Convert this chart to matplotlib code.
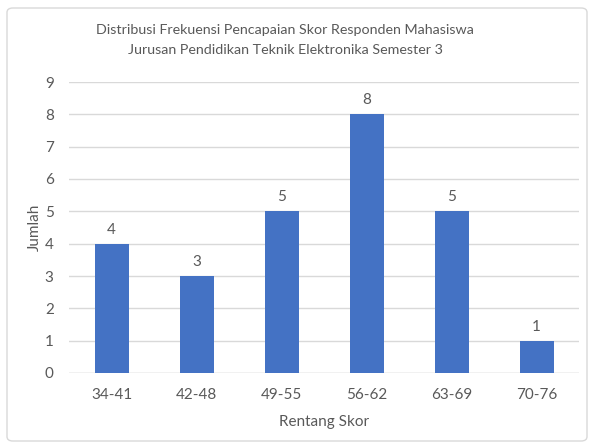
import matplotlib.pyplot as plt
from matplotlib.patches import FancyBboxPatch

ranges = ["34-41", "42-48", "49-55", "56-62", "63-69", "70-76"]
counts = [4, 3, 5, 8, 5, 1]

TEXT = "#595959"
BAR = "#4472C4"
GRID = "#D9D9D9"

plt.rcParams["font.family"] = ["Lato", "DejaVu Sans"]

fig = plt.figure(figsize=(5.89, 4.43), dpi=100, facecolor="white")

# chart frame, kept behind the axes
frame = FancyBboxPatch((7 / 589, 2 / 443), 580 / 589, 433 / 443,
                       boxstyle="round,pad=0,rounding_size=0.01",
                       transform=fig.transFigure, facecolor="white",
                       edgecolor=GRID, linewidth=1.0, zorder=-5)
fig.patches.append(frame)

ax = fig.add_axes([69 / 589, 70 / 443, 510 / 589, 291 / 443], zorder=2)
ax.patch.set_alpha(0)
x = range(len(ranges))
bars = ax.bar(x, counts, width=0.4, color=BAR, zorder=3)
for b, v in zip(bars, counts):
    ax.text(b.get_x() + b.get_width() / 2, v + 0.22, str(v), ha="center",
            va="bottom", fontsize=11, color=TEXT)

ax.set_xlim(-0.5, len(ranges) - 0.5)
ax.set_ylim(0, 9)
ax.set_yticks(range(10))
ax.set_xticks(list(x))
ax.set_xticklabels(ranges)
ax.tick_params(axis="both", length=0, labelsize=11, colors=TEXT)
ax.tick_params(axis="x", pad=11)
ax.tick_params(axis="y", pad=11)
ax.grid(axis="y", color=GRID, linewidth=1.0, zorder=0)
ax.set_axisbelow(True)
for s in ax.spines.values():
    s.set_visible(False)
ax.axhline(0, color=GRID, linewidth=1.0, zorder=1)

ax.set_xlabel("Rentang Skor", fontsize=11, color=TEXT, labelpad=9)
ax.set_ylabel("Jumlah", fontsize=11, color=TEXT, labelpad=2)

fig.text(285 / 589, 1 - 40 / 443,
         "Distribusi Frekuensi Pencapaian Skor Responden Mahasiswa\n"
         "Jurusan Pendidikan Teknik Elektronika Semester 3",
         ha="center", va="center", fontsize=10.3, color=TEXT, linespacing=1.75)

fig.savefig("out.png", dpi=100, facecolor="white")
